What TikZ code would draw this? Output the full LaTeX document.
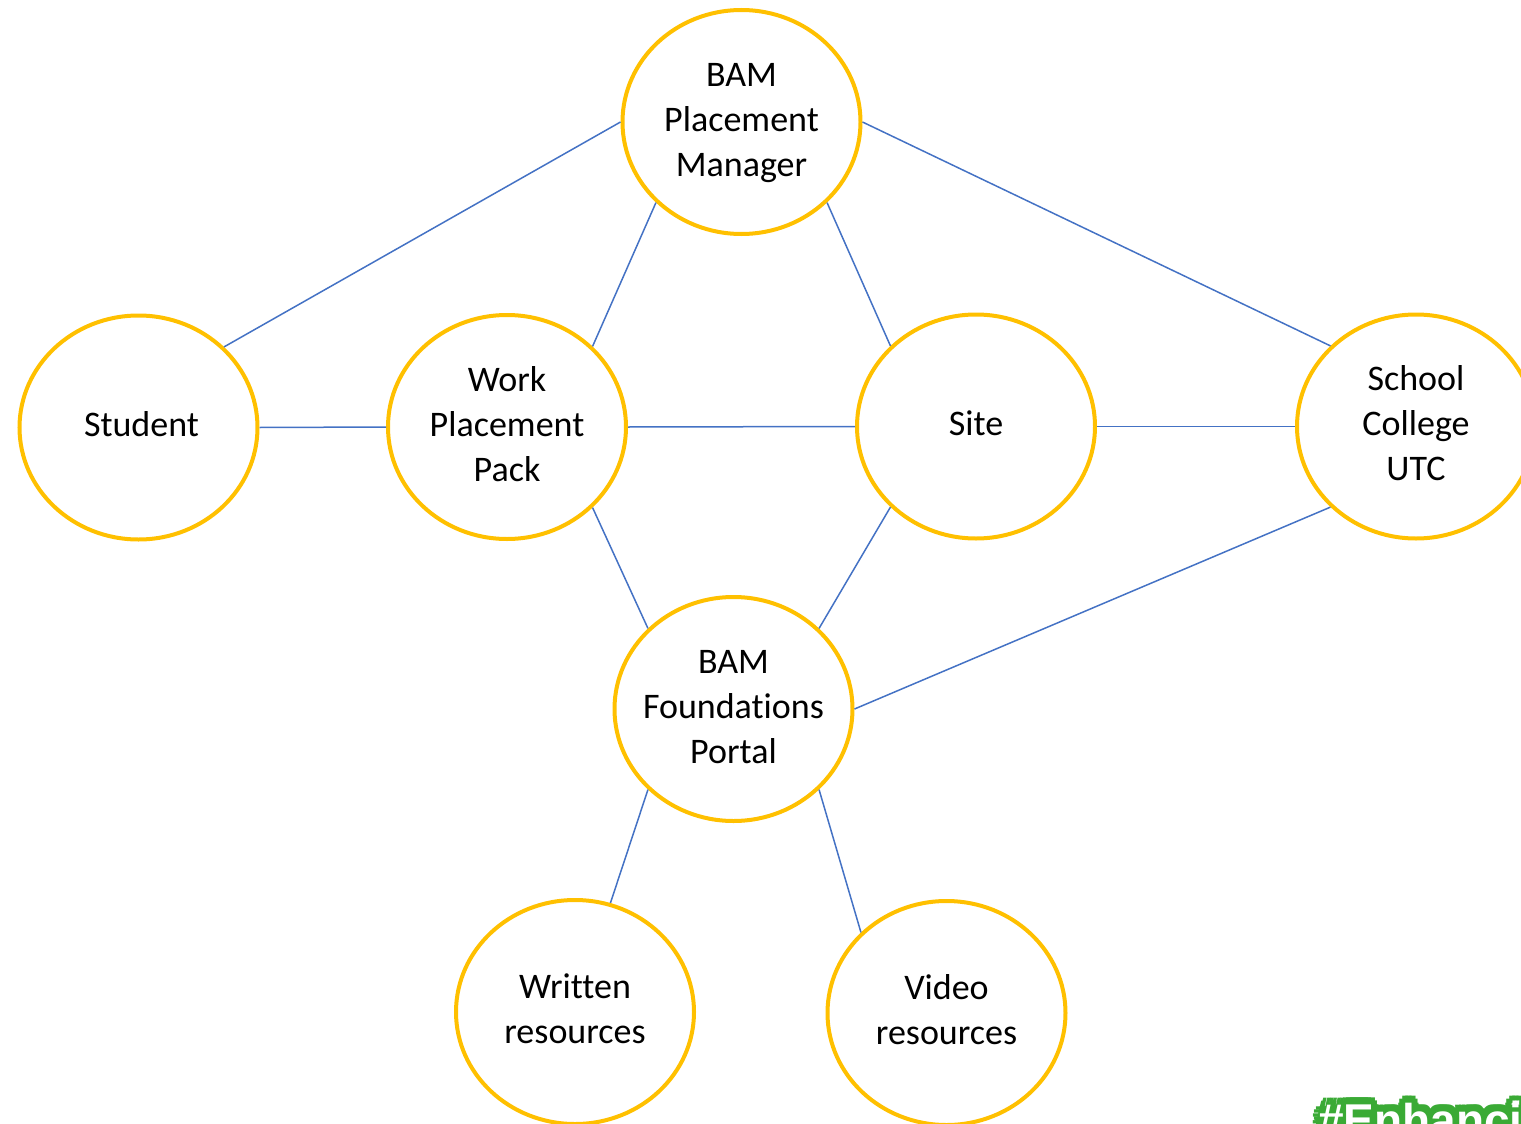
\documentclass[tikz,border=0pt]{standalone}
\usepackage{fontspec}
\setmainfont{Carlito}[Ligatures=NoCommon]
\newfontfamily\badgefont{Liberation Sans}
\usetikzlibrary{shapes.geometric}
\definecolor{ringgold}{HTML}{FFC000}
\definecolor{linkblue}{HTML}{4472C4}
\definecolor{badgegreen}{RGB}{58,170,53}
% centred lines whose width does not enlarge the ellipse
\newcommand{\bubbletext}[1]{\makebox[0pt][c]{\begin{tabular}{@{}c@{}}#1\end{tabular}}}
\begin{document}
\begin{tikzpicture}[x=1pt,y=-1pt,
  bubble/.style={ellipse,draw=ringgold,line width=4pt,fill=white,
    minimum width=238pt,minimum height=224pt,inner sep=0pt,
    font=\fontsize{36}{45}\selectfont},
  link/.style={draw=linkblue,line width=1.5pt},
  badgetext/.style={anchor=base west,inner sep=0pt,
    font=\badgefont\bfseries\fontsize{46}{46}\selectfont}]
\useasboundingbox (0,0) rectangle (1521,1124);
\clip (0,0) rectangle (1521,1124);

\node[bubble] (pm)      at (741.5,122)  {\bubbletext{BAM\\Placement\\Manager}};
\node[bubble] (student) at (138.5,427.5){\bubbletext{\hspace{6pt}Student}};
\node[bubble] (pack)    at (507,427)    {\bubbletext{Work\\Placement\\Pack}};
\node[bubble] (site)    at (976,426.5)  {\bubbletext{Site}};
\node[bubble] (school)  at (1416,426.5) {\bubbletext{School\\College\\UTC}};
\node[bubble] (portal)  at (733.5,709)  {\bubbletext{BAM\\Foundations\\Portal}};
\node[bubble] (written) at (575,1012)   {\bubbletext{Written\\resources}};
\node[bubble] (video)   at (946.5,1013) {\bubbletext{Video\\resources}};

\draw[link] (pm.west) -- (student.north east);
\draw[link] (pm.south west) -- (pack.north east);
\draw[link] (pm.south east) -- (site.north west);
\draw[link] (pm.east) -- (school.north west);
\draw[link] (student.east) -- (pack.west);
\draw[link] (pack.east) -- (site.west);
\draw[link] (site.east) -- (school.west);
\draw[link] (pack.south east) -- (portal.north west);
\draw[link] (site.south west) -- (portal.north east);
\draw[link] (school.south west) -- (portal.east);
\draw[link] (portal.south west) -- (written.72);
\draw[link] (portal.south east) -- (video.north west);

% hashtag badge in the corner: green outline, white letters
\foreach \a in {0,30,...,330}{
  \node[badgetext,text=badgegreen] (badge\a)
    at ([shift={(\a:7)}]1318,1136) {\#Enhancing};
}
\node[badgetext,text=white] (badge) at (1318,1136) {\#Enhancing};
\end{tikzpicture}
\end{document}
